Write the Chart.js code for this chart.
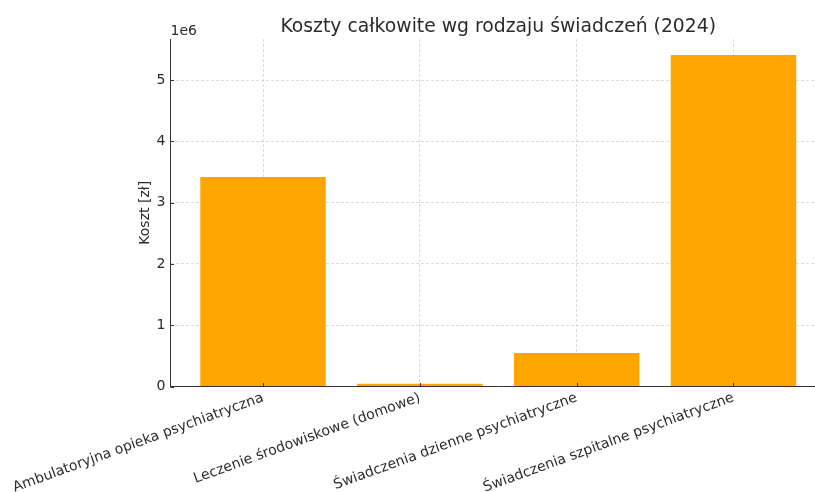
<!DOCTYPE html>
<html><head><meta charset="utf-8">
<script src="https://cdn.jsdelivr.net/npm/chart.js@4"></script>
<style>html,body{margin:0;padding:0;overflow:hidden;background:#fff;width:815px;height:492px}</style>
</head><body>
<canvas id="c" width="826" height="492" style="display:block"></canvas>
<script>
const categories = [
  "Ambulatoryjna opieka psychiatryczna",
  "Leczenie środowiskowe (domowe)",
  "Świadczenia dzienne psychiatryczne",
  "Świadczenia szpitalne psychiatryczne"
];
const costs = [3420000, 45000, 547000, 5410000];
const yTickValues = [0, 1, 2, 3, 4, 5]; // ×1e6
const yMax = 5.67e6;
const titleText = "Koszty całkowite wg rodzaju świadczeń (2024)";
const yLabel = "Koszt [zł]";
const offsetText = "1e6";

const FONT = "'DejaVu Sans', sans-serif";
const TXT = "#2b2b2b";
Chart.defaults.font.family = FONT;
Chart.defaults.color = TXT;

const extras = {
  id: 'extras',
  afterDraw(chart) {
    const {ctx, chartArea: a, scales: {x, y}} = chart;
    ctx.save();
    ctx.strokeStyle = '#333333';
    ctx.lineWidth = 1;
    ctx.beginPath();
    y.ticks.forEach(t => {
      const p = Math.round(y.getPixelForValue(t.value)) + 0.5;
      ctx.moveTo(a.left, p); ctx.lineTo(a.left + 3.5, p);
    });
    x.ticks.forEach(t => {
      const p = Math.round(x.getPixelForValue(t.value)) + 0.5;
      ctx.moveTo(p, a.bottom); ctx.lineTo(p, a.bottom - 3.5);
    });
    ctx.stroke();
    ctx.fillStyle = TXT;
    ctx.font = "18.8px " + FONT;
    ctx.textAlign = 'center';
    ctx.textBaseline = 'alphabetic';
    ctx.fillText(titleText, (a.left + a.right) / 2, 32);
    ctx.font = "14px " + FONT;
    ctx.textAlign = 'left';
    ctx.fillText(offsetText, a.left, 35);
    ctx.restore();
  }
};

new Chart(document.getElementById('c'), {
  type: 'bar',
  data: {
    datasets: [{
      data: costs.map((v, i) => ({x: i, y: v})),
      backgroundColor: '#FFA500',
      borderWidth: 0,
      categoryPercentage: 1.0,
      barPercentage: 0.8
    }]
  },
  options: {
    responsive: false,
    animation: false,
    devicePixelRatio: 1,
    layout: {padding: {left: 0, right: 0, top: 39, bottom: 0}},
    plugins: {legend: {display: false}, title: {display: false}, tooltip: {enabled: false}},
    scales: {
      x: {
        type: 'linear',
        offset: false,
        min: -0.59,
        max: 3.59,
        z: 1,
        afterBuildTicks: s => { s.ticks = categories.map((_, i) => ({value: i})); },
        afterFit: s => { s.height = 105.5; s.paddingLeft = 0; s.paddingRight = 0; },
        ticks: {
          autoSkip: false,
          minRotation: 20,
          maxRotation: 20,
          padding: 3,
          font: {size: 14.1},
          color: TXT,
          callback: v => categories[v]
        },
        grid: {offset: false, color: '#d3d3d3', lineWidth: 0.8, drawTicks: false},
        border: {display: true, color: '#333333', width: 1, dash: [3, 2]}
      },
      y: {
        min: 0,
        max: yMax,
        z: 1,
        afterBuildTicks: s => { s.ticks = yTickValues.map(v => ({value: v * 1e6})); },
        afterFit: s => { s.width = 170.5; },
        ticks: {padding: 5, font: {size: 14.1}, color: TXT, callback: v => String(v / 1e6)},
        grid: {color: '#d3d3d3', lineWidth: 0.8, drawTicks: false},
        border: {display: true, color: '#333333', width: 1, dash: [3, 2]},
        title: {display: true, text: yLabel, font: {size: 14}, color: TXT, padding: {top: 137, bottom: 0}}
      }
    }
  },
  plugins: [extras]
});
</script>
</body></html>
